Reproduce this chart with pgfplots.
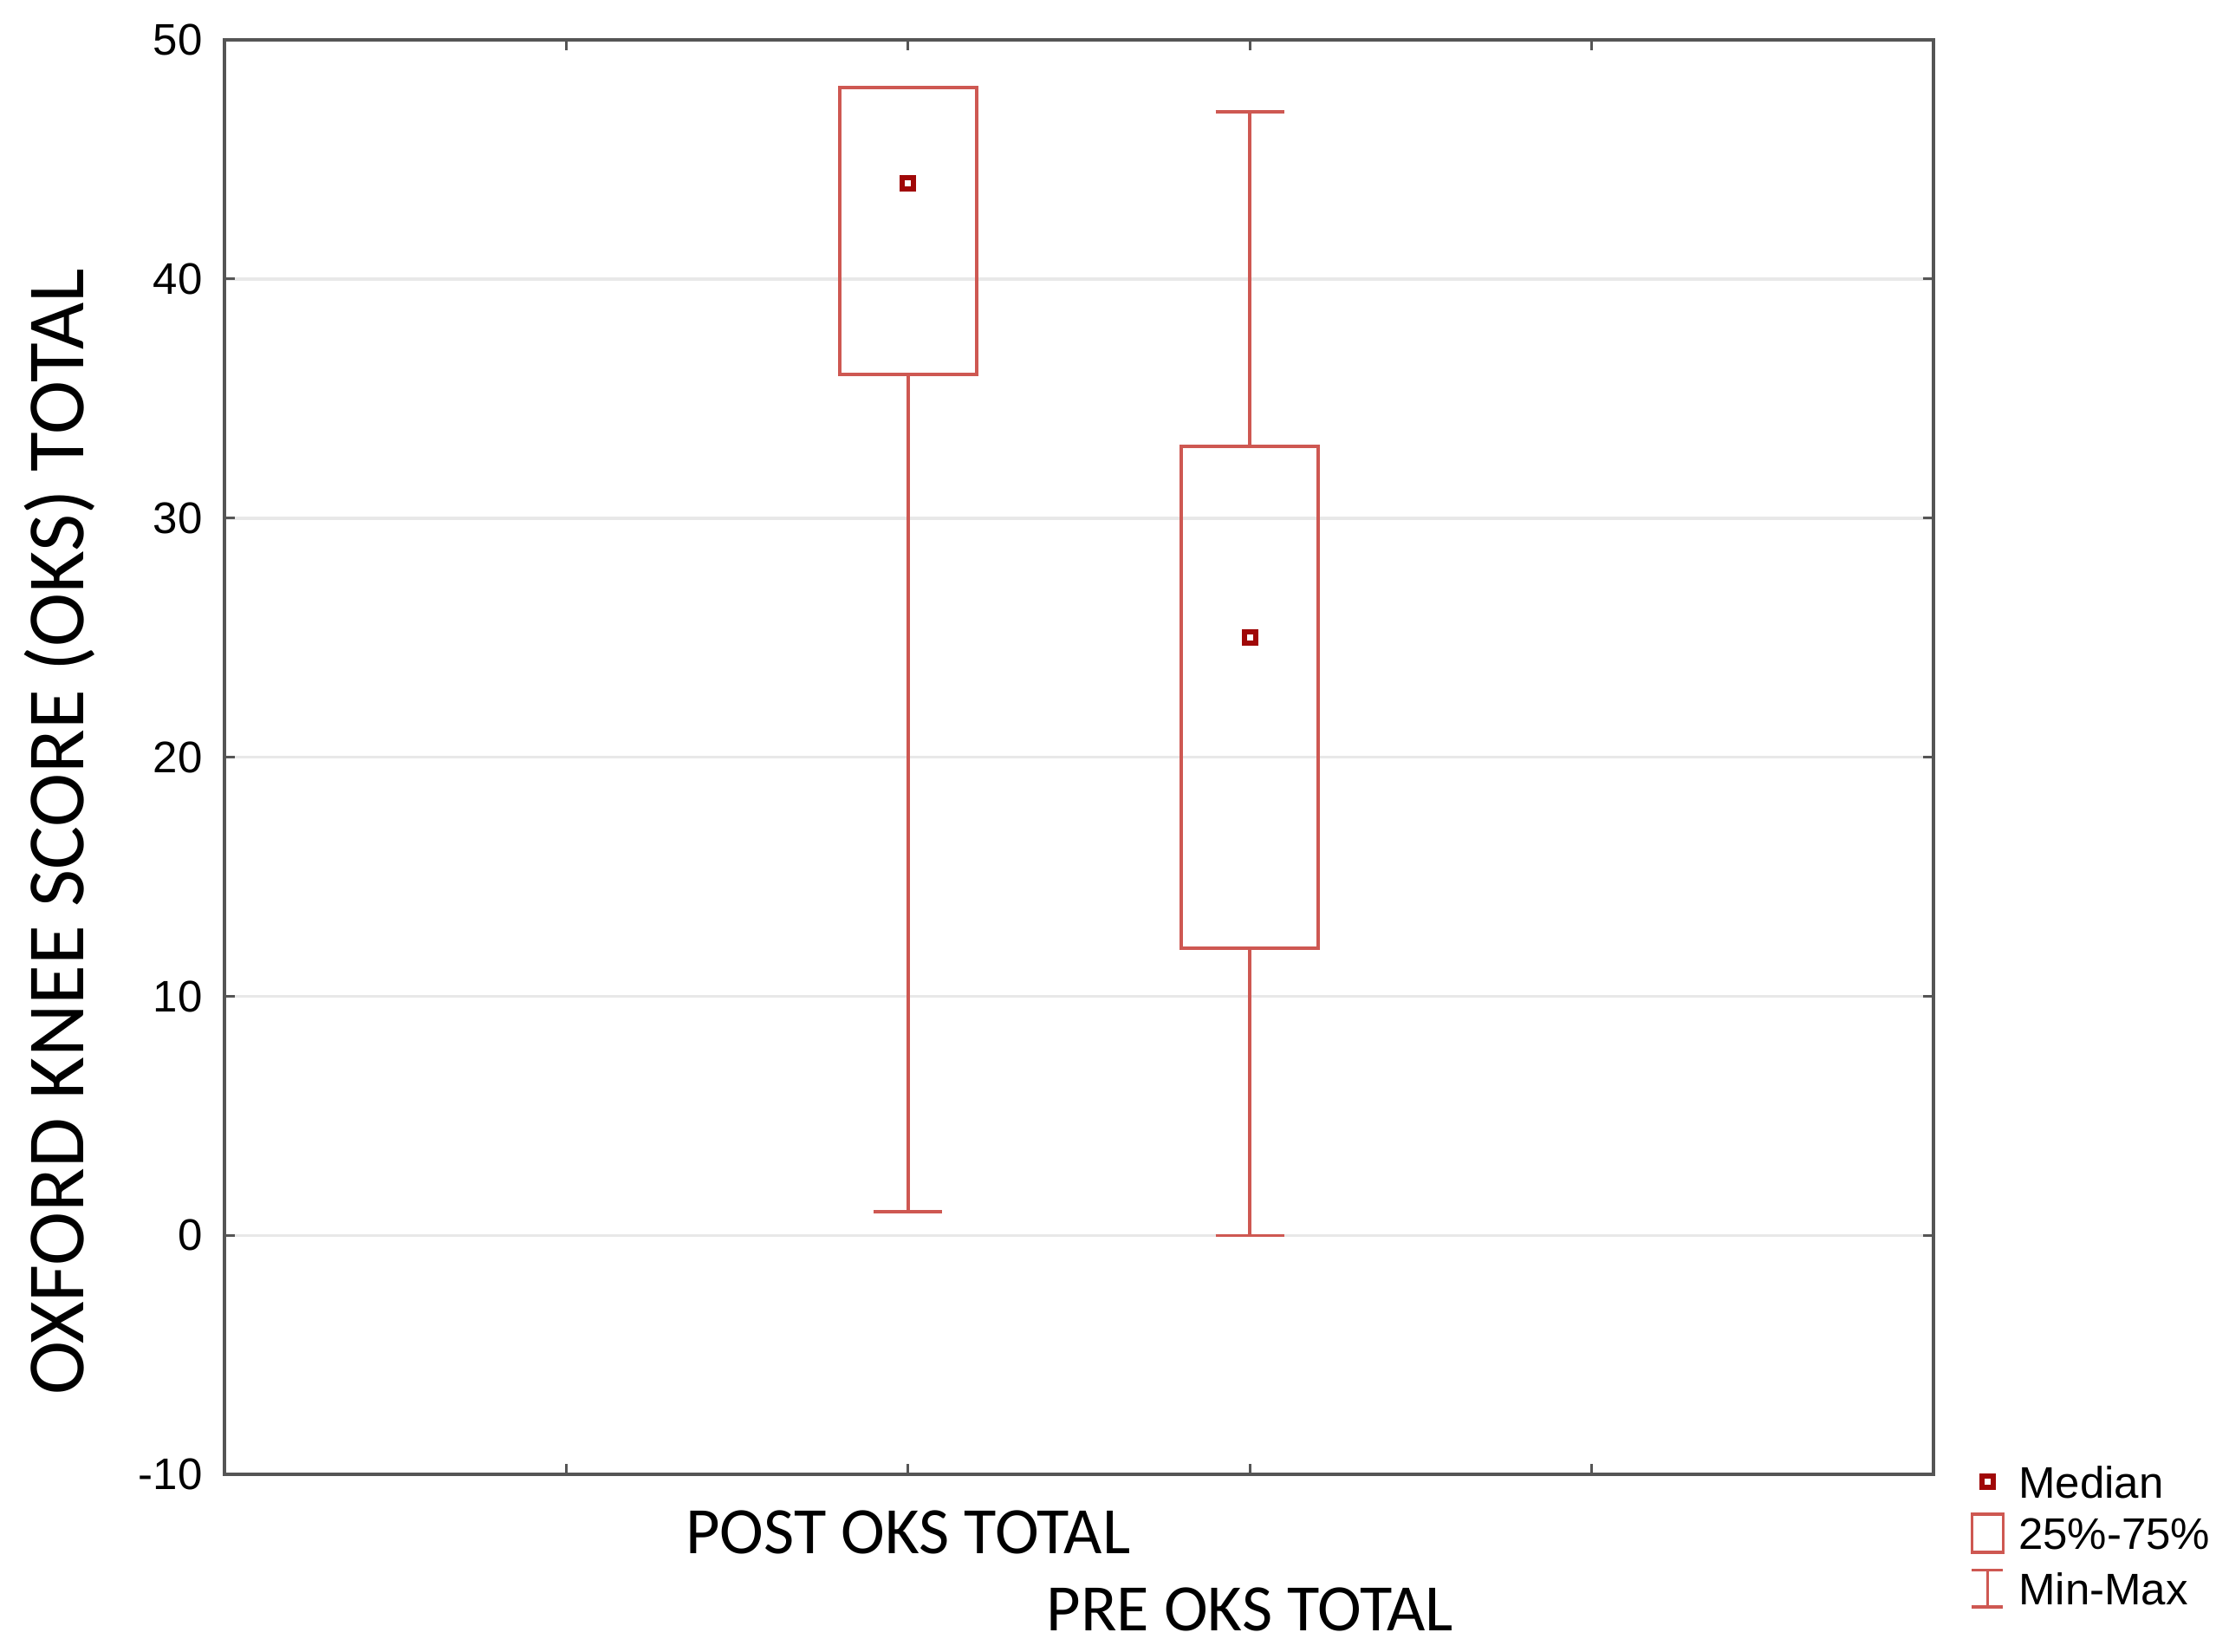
\documentclass[border=0pt]{standalone}
\usepackage{fontspec}
\setmainfont{Liberation Sans}
\newfontfamily\carlito{Carlito}
\usepackage{pgfplots}
\pgfplotsset{compat=1.18}
\usepgfplotslibrary{statistics}

\definecolor{boxred}{RGB}{206,88,82}
\definecolor{medred}{RGB}{160,8,8}
\definecolor{framegray}{RGB}{85,85,85}
\definecolor{gridgray}{RGB}{232,232,232}

\begin{document}
\begin{tikzpicture}
\useasboundingbox (0,0) rectangle (643bp,476.5bp);
\begin{axis}[
    at={(64.8bp,51.2bp)}, anchor=south west,
    scale only axis,
    width=492.9bp, height=413.8bp,
    xmin=-1, xmax=4,
    ymin=-10, ymax=50,
    ytick={-10,0,10,20,30,40,50},
    xtick={0,1,3},
    xticklabels={,POST OKS TOTAL,},
    extra x ticks={2},
    extra x tick labels={PRE OKS TOTAL},
    extra x tick style={xticklabel style={yshift=-22.2bp}},
    xticklabel style={font=\carlito\fontsize{19.2}{21}\selectfont, anchor=base, yshift=-22.8bp, inner sep=0pt},
    yticklabel style={font=\fontsize{12.8}{14}\selectfont, inner sep=0pt, xshift=-6.2bp},
    /pgf/number format/assume math mode=true,
    tick align=inside,
    xtick pos=both, ytick pos=both,
    major tick length=3bp,
    tick style={framegray, line width=0.8bp},
    axis line style={framegray, line width=1.1bp},
    ymajorgrids,
    grid style={gridgray, line width=0.9bp},
    boxplot/draw direction=y,
    ylabel={OXFORD KNEE SCORE (OKS) TOTAL},
    ylabel style={font=\carlito\fontsize{23.5}{25}\selectfont, at={(axis description cs:-0.0966,0.448)}, anchor=center, inner sep=0pt},
    legend style={at={(rel axis cs:1,0)}, anchor=north west, xshift=10.7bp, yshift=2.5bp,
        draw=none, fill=none, inner sep=0pt, outer sep=0pt,
        font=\fontsize{12.8}{14}\selectfont,
        nodes={inner sep=0pt, text height=9.3bp, text depth=0pt},
        row sep=4.2bp, column sep=4bp},
    legend cell align=left,
]

% POST OKS TOTAL
\addplot[forget plot, draw=boxred, line width=0.9bp, mark=none,
    boxplot prepared={draw position=1, lower whisker=1, lower quartile=36,
        median=44, upper quartile=48, upper whisker=48,
        box extend=0.4, whisker extend=0.2, every median/.style={draw=none}}]
    coordinates {};

% PRE OKS TOTAL
\addplot[forget plot, draw=boxred, line width=0.9bp, mark=none,
    boxplot prepared={draw position=2, lower whisker=0, lower quartile=12,
        median=25, upper quartile=33, upper whisker=47,
        box extend=0.4, whisker extend=0.2, every median/.style={draw=none}}]
    coordinates {};

% medians
\addplot[forget plot, only marks, mark=square*, mark size=1.6bp,
    mark options={draw=medred, fill=white, line width=1.5bp}]
    coordinates {(1,44) (2,25)};

\addlegendimage{legend image code/.code={
    \draw[medred, line width=1.5bp, fill=white] (2.9bp,-1.6bp) rectangle (6.1bp,1.6bp);}}
\addlegendentry{Median}
\addlegendimage{legend image code/.code={
    \draw[boxred, line width=0.9bp] (0,-5.5bp) rectangle (9bp,5.5bp);}}
\addlegendentry{25\%-75\%}
\addlegendimage{legend image code/.code={
    \draw[boxred, line width=0.9bp] (0,5.3bp) -- (9bp,5.3bp) (4.5bp,5.3bp) -- (4.5bp,-5.3bp) (0,-5.3bp) -- (9bp,-5.3bp);}}
\addlegendentry{Min-Max}
\end{axis}
\end{tikzpicture}
\end{document}
